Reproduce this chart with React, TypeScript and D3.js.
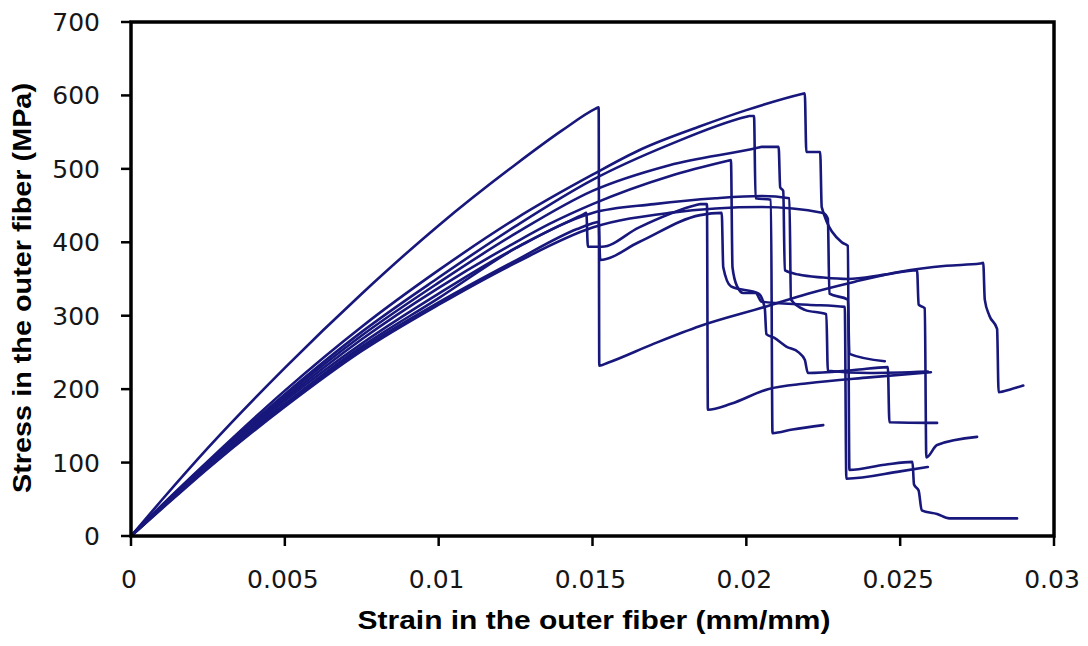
import React from 'react';
import * as d3 from 'd3';

const W = 1088;
const H = 646;

// strain (mm/mm), stress (MPa) pairs, one array per specimen
const specimenA: [number, number][] = [
  [0, 0], [0.001, 49], [0.0025, 120], [0.005, 229], [0.0075, 330], [0.01, 423],
  [0.0125, 506], [0.014, 552], [0.0151, 582], [0.0152, 584], [0.01522, 232], [0.0155, 236],
  [0.017, 262], [0.0185, 286], [0.0206, 312], [0.022, 330], [0.0235, 346],
  [0.025, 360], [0.0265, 368], [0.0276, 371], [0.0277, 372], [0.02775, 322], [0.0279, 300],
  [0.02815, 282], [0.0282, 196], [0.0286, 200], [0.029, 205]
];
const specimenB: [number, number][] = [
  [0, 0], [0.001, 42], [0.0025, 102], [0.005, 198], [0.0075, 285], [0.01, 362],
  [0.0125, 432], [0.015, 492], [0.0166, 527], [0.0185, 558], [0.02, 580],
  [0.0218, 602], [0.0219, 603], [0.02195, 523], [0.0224, 523], [0.02245, 448], [0.0231, 400],
  [0.0233, 395], [0.02335, 90], [0.0245, 97], [0.0254, 101], [0.02545, 70],
  [0.0256, 62], [0.0257, 35], [0.0262, 30], [0.0266, 24], [0.0288, 24]
];
const specimenC: [number, number][] = [
  [0, 0], [0.001, 41], [0.0025, 100], [0.005, 193], [0.0075, 278], [0.01, 352],
  [0.0125, 422], [0.015, 485], [0.0175, 533], [0.02, 571], [0.0201, 572], [0.02025, 572],
  [0.0203, 460], [0.0208, 458], [0.02085, 140], [0.0215, 145], [0.0225, 151]
];
const specimenD: [number, number][] = [
  [0, 0], [0.001, 39], [0.0025, 97], [0.005, 187], [0.0075, 268], [0.01, 338],
  [0.0125, 400], [0.0136, 425], [0.015, 452], [0.0175, 490], [0.0194, 511], [0.0195, 512],
  [0.01955, 366], [0.0197, 340], [0.0199, 331], [0.0203, 331], [0.0205, 319],
  [0.022, 315], [0.0232, 312], [0.02325, 78], [0.025, 88], [0.0259, 94]
];
const specimenE: [number, number][] = [
  [0, 0], [0.001, 38], [0.0025, 94], [0.005, 180], [0.0075, 258], [0.01, 324],
  [0.0125, 392], [0.0147, 438], [0.0148, 440], [0.01485, 394], [0.0153, 394], [0.0165, 420],
  [0.0184, 451], [0.0185, 452], [0.01872, 452], [0.01875, 172], [0.0195, 180], [0.0207, 200],
  [0.022, 208], [0.024, 216], [0.026, 223]
];
const specimenF: [number, number][] = [
  [0, 0], [0.001, 38], [0.0025, 93], [0.005, 178], [0.0075, 255], [0.01, 318],
  [0.0125, 375], [0.0145, 418], [0.0151, 427], [0.0152, 428], [0.01525, 376], [0.0165, 400],
  [0.0185, 437], [0.0192, 440], [0.01925, 366], [0.0195, 340], [0.0204, 330],
  [0.0206, 310], [0.02065, 275], [0.0209, 270], [0.0213, 258], [0.0217, 250],
  [0.0219, 240], [0.022, 222], [0.0235, 226], [0.0246, 230], [0.02465, 155],
  [0.0262, 154]
];
const specimenG: [number, number][] = [
  [0, 0], [0.001, 40], [0.0025, 98], [0.005, 190], [0.0075, 273], [0.01, 345],
  [0.0125, 412], [0.015, 470], [0.0175, 505], [0.0204, 529], [0.0205, 530], [0.02105, 530],
  [0.0211, 475], [0.0212, 470], [0.02125, 362], [0.0217, 356], [0.0225, 352],
  [0.0233, 350], [0.0245, 356], [0.02555, 362], [0.0256, 315], [0.0258, 310],
  [0.02585, 107], [0.0262, 124], [0.0275, 135]
];
const specimenH: [number, number][] = [
  [0, 0], [0.001, 39], [0.0025, 95], [0.005, 184], [0.0075, 262], [0.01, 330],
  [0.0125, 392], [0.015, 440], [0.017, 452], [0.019, 460], [0.0205, 463],
  [0.0214, 460], [0.02145, 322], [0.0219, 308], [0.0226, 302], [0.02265, 225],
  [0.024, 222], [0.0259, 224]
];
const specimenI: [number, number][] = [
  [0, 0], [0.001, 37], [0.0025, 92], [0.005, 176], [0.0075, 252], [0.01, 315],
  [0.0125, 372], [0.015, 420], [0.0175, 440], [0.0205, 448], [0.0225, 440],
  [0.02265, 432], [0.0227, 330], [0.0233, 322], [0.02335, 248], [0.0245, 238]
];

const specimens = [specimenA, specimenB, specimenC, specimenD, specimenE,
  specimenF, specimenG, specimenH, specimenI];

const xTicks = [0, 0.005, 0.01, 0.015, 0.02, 0.025, 0.03];
const xTickLabels = ['0', '0.005', '0.01', '0.015', '0.02', '0.025', '0.03'];
const yTicks = [0, 100, 200, 300, 400, 500, 600, 700];

const xTitle = 'Strain in the outer fiber (mm/mm)';
const yTitle = 'Stress in the outer fiber (MPa)';

export default function App() {
  const left = 131, right = 1054, top = 22, bottom = 536;
  const x = d3.scaleLinear().domain([0, 0.03]).range([left, right]);
  const y = d3.scaleLinear().domain([0, 700]).range([bottom, top]);
  const line = d3.line<[number, number]>()
    .x(d => x(d[0]))
    .y(d => y(d[1]))
    .curve(d3.curveMonotoneX);

  return (
    <svg width={W} height={H} style={{position: 'absolute', left: 0, top: 0, background: '#fff'}}>
      <rect x={0} y={0} width={W} height={H} fill="#fff" />
      <g>
        {specimens.map((s, i) => (
          <path key={i} d={line(s) || ''} fill="none" stroke="#17177c"
            strokeWidth={2.6} strokeLinejoin="round" strokeLinecap="round" />
        ))}
      </g>
      <rect x={left} y={top} width={right - left} height={bottom - top}
        fill="none" stroke="#000" strokeWidth={3.5} />
      <g fontFamily="DejaVu Sans" fontSize={25} fill="#161616">
        {yTicks.map(t => (
          <g key={t}>
            <line x1={left - 10} x2={left} y1={y(t)} y2={y(t)} stroke="#000" strokeWidth={2.5} />
            <text x={100} y={y(t) + 9} textAnchor="end">{t}</text>
          </g>
        ))}
        {xTicks.map((t, i) => (
          <g key={t}>
            <line x1={x(t)} x2={x(t)} y1={bottom} y2={bottom + 10} stroke="#000" strokeWidth={2.5} />
            <text x={x(t) - 2} y={588} textAnchor="middle">{xTickLabels[i]}</text>
          </g>
        ))}
      </g>
      <text x={594} y={629} textAnchor="middle" fontFamily="Liberation Sans" fontWeight="bold"
        fontSize={25} textLength={473} lengthAdjust="spacingAndGlyphs" fill="#000">{xTitle}</text>
      <text transform="translate(31,288) rotate(-90)" textAnchor="middle" fontFamily="Liberation Sans"
        fontWeight="bold" fontSize={25} textLength={410} lengthAdjust="spacingAndGlyphs"
        fill="#000">{yTitle}</text>
    </svg>
  );
}
